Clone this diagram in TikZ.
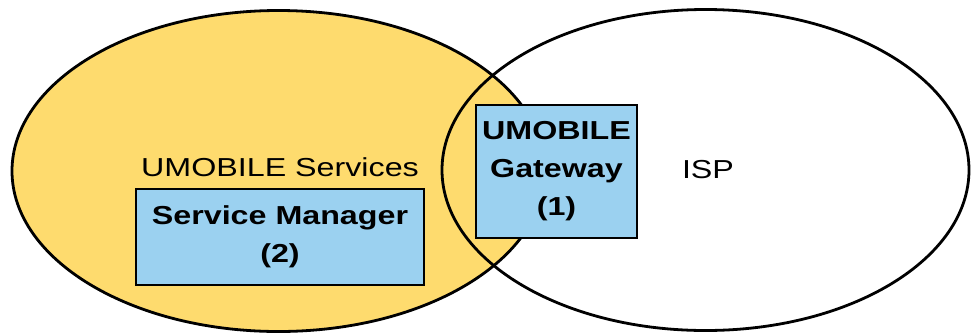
\documentclass[tikz,border=0pt]{standalone}
\usepackage{fontspec}
\newfontfamily\lab{Liberation Sans}[FakeStretch=1.24]
\definecolor{venyellow}{RGB}{254,219,110}
\definecolor{boxblue}{RGB}{155,209,240}
\begin{document}
\begin{tikzpicture}[x=1bp,y=-1bp,
  outline/.style={draw=black,line width=2.8bp},
  compbox/.style={outline,fill=boxblue,rectangle,inner sep=0pt,align=center,
    font=\lab\bfseries\fontsize{26bp}{38bp}\selectfont},
  plainlabel/.style={inner sep=0pt,font=\lab\fontsize{26bp}{38bp}\selectfont}]
\useasboundingbox (0,0) rectangle (971,333);
% left ellipse (UMOBILE Services)
\draw[outline,fill=venyellow] (278.5,171) ellipse [x radius=266.5,y radius=160.5];
% right ellipse (ISP)
\draw[outline] (705.5,170) ellipse [x radius=263.5,y radius=160.5];
% labels
\node[plainlabel,anchor=base] (services) at (280,176) {UMOBILE Services};
\node[plainlabel,anchor=base] (isp) at (708,178) {ISP};
% boxes
\node[compbox,minimum width=288bp,minimum height=96bp] (manager) at (280,237)
  {Service Manager\\(2)};
\node[compbox,minimum width=161bp,minimum height=133bp] (gateway) at (556.5,171.5)
  {UMOBILE\\Gateway\\(1)};
\end{tikzpicture}
\end{document}
